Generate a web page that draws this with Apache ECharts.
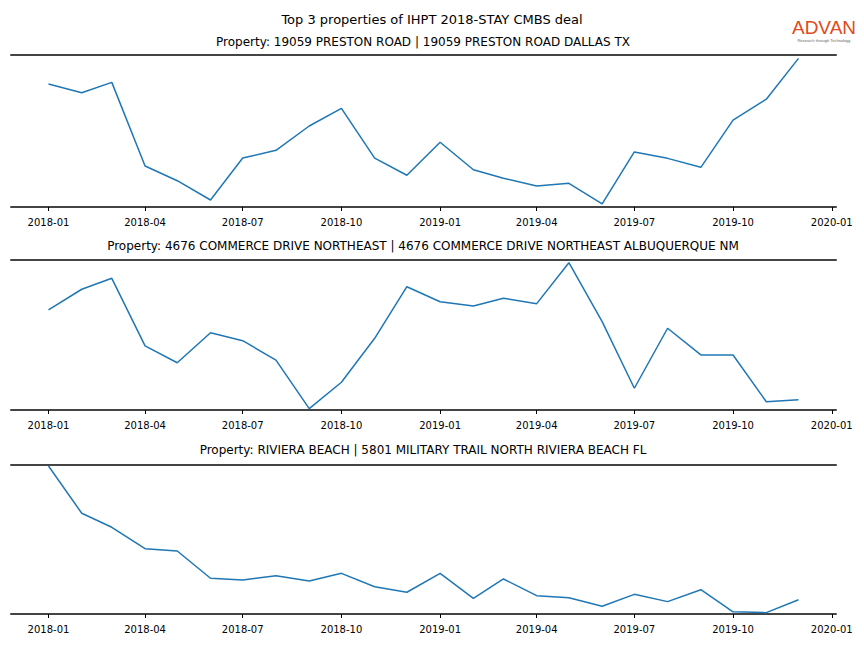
<!DOCTYPE html>
<html>
<head>
<meta charset="utf-8">
<script src="https://cdn.jsdelivr.net/npm/echarts@6/dist/echarts.min.js"></script>
<style>html,body{margin:0;padding:0;background:#fff}#c{width:864px;height:648px}</style>
</head>
<body>
<div id="c"></div>
<script>
const months = ["2018-01","2018-02","2018-03","2018-04","2018-05","2018-06","2018-07","2018-08","2018-09","2018-10","2018-11","2018-12",
                "2019-01","2019-02","2019-03","2019-04","2019-05","2019-06","2019-07","2019-08","2019-09","2019-10","2019-11","2019-12"];
const tickLabels = ["2018-01","2018-04","2018-07","2018-10","2019-01","2019-04","2019-07","2019-10","2020-01"];
const mainTitle = "Top 3 properties of IHPT 2018-STAY CMBS deal";
const propertyTitles = [
  "Property: 19059 PRESTON ROAD | 19059 PRESTON ROAD DALLAS TX",
  "Property: 4676 COMMERCE DRIVE NORTHEAST | 4676 COMMERCE DRIVE NORTHEAST ALBUQUERQUE NM",
  "Property: RIVIERA BEACH | 5801 MILITARY TRAIL NORTH RIVIERA BEACH FL"
];
const prestonValues = [80.9,75.2,82.0,27.0,17.3,4.6,32.2,37.3,53.3,64.9,32.2,20.9,42.6,24.5,18.9,13.8,15.6,2.0,36.2,32.0,26.1,57.2,70.9,97.8];
const commerceValues = [66.7,80.5,87.8,42.7,31.5,51.5,46.2,33.3,0.9,18.5,47.8,82.2,72.2,69.3,74.5,70.9,98.2,58.9,14.5,54.5,36.7,36.7,5.5,6.9];
const rivieraValues = [99.3,67.6,58.2,43.8,42.3,24.0,22.8,25.7,22.1,27.3,18.3,14.6,27.3,10.5,23.5,12.3,10.9,5.2,13.2,8.3,16.3,1.5,0.9,9.6];
const seriesValues = [prestonValues, commerceValues, rivieraValues];

function ts(s){ const p = s.split('-'); return Date.UTC(+p[0], +p[1]-1, 1); }
function fmt(v){ const d = new Date(v); const m = d.getUTCMonth()+1; return d.getUTCFullYear() + '-' + (m<10?'0':'') + m; }

const first = ts(months[0]), last = ts(months[months.length-1]);
const pad = (last - first) * 0.05;
const xMin = first - pad, xMax = last + pad;
const tickVals = tickLabels.map(ts);

const grids = [
  {left: 11, right: 28, top: 55, height: 152},
  {left: 11, right: 28, top: 260, height: 150},
  {left: 11, right: 28, top: 465, height: 149}
];
const subY = [42, 246, 450];

const xAxes = [], yAxes = [], series = [], graphics = [];
const font = '"DejaVu Sans", sans-serif';
grids.forEach((g, i) => {
  xAxes.push({
    type: 'value', gridIndex: i, position: 'bottom', min: xMin, max: xMax,
    axisLine: {show: true, lineStyle: {color: '#444', width: 2}},
    axisTick: {show: true, length: 4, customValues: tickVals, lineStyle: {color: '#000', width: 1}},
    axisLabel: {show: true, customValues: tickVals, formatter: fmt, fontSize: 10, color: '#000', fontFamily: font, margin: 10},
    splitLine: {show: false}
  });
  xAxes.push({
    type: 'value', gridIndex: i, position: 'top', min: xMin, max: xMax,
    axisLine: {show: true, lineStyle: {color: '#444', width: 2}},
    axisTick: {show: false}, axisLabel: {show: false}, splitLine: {show: false}
  });
  yAxes.push({type: 'value', gridIndex: i, min: 0, max: 100, show: false, splitLine: {show: false}});
  series.push({
    type: 'line', xAxisIndex: i*2, yAxisIndex: i, showSymbol: false, symbol: 'none',
    lineStyle: {color: '#1f77b4', width: 1.5}, itemStyle: {color: '#1f77b4'},
    data: months.map((m, k) => [ts(m), seriesValues[i][k]]), animation: false
  });
  graphics.push({type: 'text', style: {text: propertyTitles[i], x: 423, y: subY[i], align: 'center', verticalAlign: 'middle', font: '12px ' + font, fill: '#000'}});
});
graphics.push({type: 'text', style: {text: mainTitle, x: 432, y: 19, align: 'center', verticalAlign: 'middle', font: '13px ' + font, fill: '#000'}});
graphics.push({type: 'text', style: {text: 'ADVAN', x: 824, y: 27, align: 'center', verticalAlign: 'middle', font: '19px "Liberation Sans", sans-serif', fill: '#e04a20'}});
graphics.push({type: 'text', style: {text: 'Research through Technology', x: 824, y: 40, align: 'center', verticalAlign: 'middle', font: '4px "Liberation Sans", sans-serif', fill: '#666'}});

const chart = echarts.init(document.getElementById('c'), null, {renderer: 'svg'});
chart.setOption({
  animation: false,
  backgroundColor: '#fff',
  grid: grids,
  xAxis: xAxes,
  yAxis: yAxes,
  series: series,
  graphic: graphics
});
</script>
</body>
</html>
